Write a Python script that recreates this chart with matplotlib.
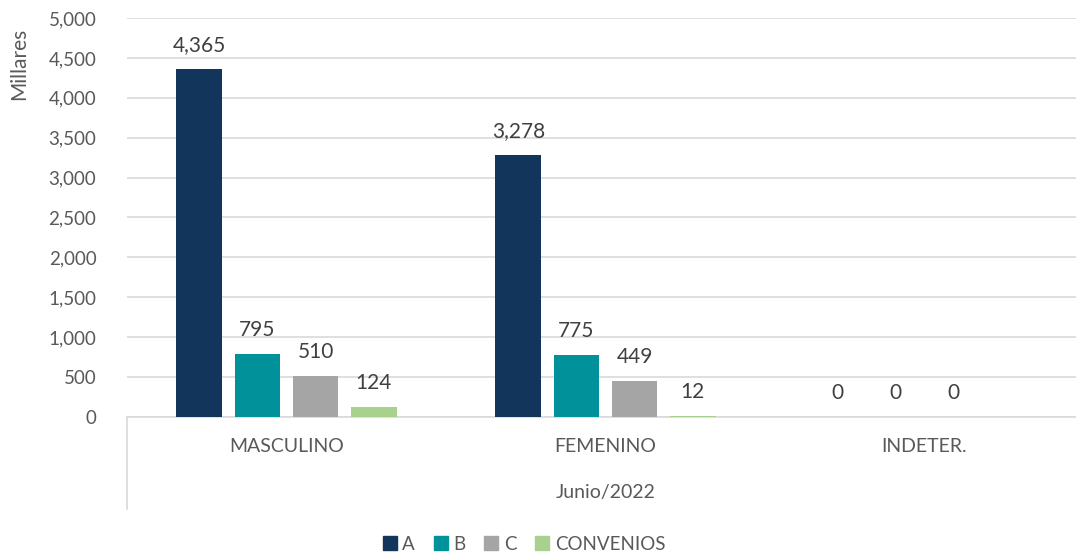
import numpy as np
import matplotlib.pyplot as plt
from matplotlib.patches import Patch

# Datos
categorias = ['MASCULINO', 'FEMENINO', 'INDETER.']
serie_a = [4365, 3278, 0]
serie_b = [795, 775, 0]
serie_c = [510, 449, 0]
serie_conv = [124, 12, None]
nombres = ['A', 'B', 'C', 'CONVENIOS']
colores = ['#12355B', '#00919A', '#A5A5A5', '#A9D18E']
periodo = 'Junio/2022'

plt.rcParams['font.family'] = ['Lato', 'DejaVu Sans']
gris = '#595959'

fig = plt.figure(figsize=(10.76, 5.54), dpi=100)
# eje de 127px a 1084px, de 18px a 417px
ax = fig.add_axes([127 / 1076, 1 - 417 / 554, (1084 - 127) / 1076, (417 - 18) / 554])

x = np.arange(len(categorias))
ancho = 0.144
paso = 0.182
series = [serie_a, serie_b, serie_c, serie_conv]
for i, (vals, col) in enumerate(zip(series, colores)):
    pos = x + (i - 1.5) * paso
    for p, v in zip(pos, vals):
        if v is None:
            continue
        ax.bar(p, v, width=ancho, color=col, zorder=3)
        ax.annotate(f'{v:,}', (p, v), xytext=(0, 10), textcoords='offset points',
                    ha='center', va='bottom', fontsize=15, color='#404040')

ax.set_xlim(-0.5, 2.5)
ax.set_ylim(0, 5000)
ax.set_yticks(range(0, 5001, 500))
ax.set_yticklabels([f'{v:,}' for v in range(0, 5001, 500)], fontsize=13.5, color=gris)
ax.yaxis.grid(True, color='#D9D9D9', linewidth=1.2, zorder=0)
ax.tick_params(axis='y', length=0, pad=22)
ax.tick_params(axis='x', length=0)
ax.set_xticks([])
for s in ['top', 'right', 'left']:
    ax.spines[s].set_visible(False)
ax.spines['bottom'].set_color('#D9D9D9')
ax.spines['bottom'].set_linewidth(1.2)
ax.set_ylabel('Millares', fontsize=15, color=gris)
ax.yaxis.set_label_coords(-0.102, 0.885)

# etiquetas de categorías en dos niveles
for xi, cat in zip(x, categorias):
    ax.text(xi, -0.075, cat, transform=ax.get_xaxis_transform(), ha='center', va='center',
            fontsize=14, color=gris)
ax.text(1, -0.19, periodo, transform=ax.get_xaxis_transform(), ha='center', va='center',
        fontsize=14, color=gris)
ax.plot([-0.5, -0.5], [0, -0.23], transform=ax.get_xaxis_transform(), color='#D9D9D9',
        linewidth=1.2, clip_on=False)

handles = [Patch(color=c, label=n) for c, n in zip(colores, nombres)]
fig.legend(handles=handles, loc='center', bbox_to_anchor=(524 / 1076, 1 - 544 / 554), ncol=4,
           frameon=False, fontsize=13.5, handlelength=0.75, handleheight=0.75, handletextpad=0.3,
           columnspacing=1.0, labelcolor=gris)

fig.savefig('out.png', dpi=100)
